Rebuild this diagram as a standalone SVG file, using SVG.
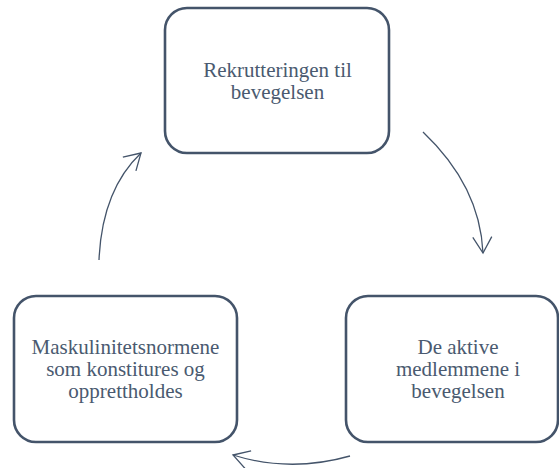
<svg xmlns="http://www.w3.org/2000/svg" width="559" height="468" viewBox="0 0 559 468">
  <style>
    .box { fill: #ffffff; stroke: #44546A; stroke-width: 2.6; }
    .lbl { font-size: 21px; fill: #4a5a70; text-anchor: middle; }
    .arc { fill: none; stroke: #44546A; stroke-width: 1.3; marker-end: url(#open); }
  </style>
  <defs>
    <marker id="open" markerUnits="userSpaceOnUse" markerWidth="40" markerHeight="40" refX="0" refY="0" viewBox="-20 -20 40 40" orient="auto" overflow="visible">
      <path d="M-16,-9.5 L0,0 L-16,9.5" fill="none" stroke="#44546A" stroke-width="1.3" stroke-linejoin="miter"/>
    </marker>
  </defs>
  <rect width="559" height="468" fill="#ffffff"/>
  <g id="connectors">
    <path class="arc" d="M423,132 Q480,186 483,253"/>
    <path class="arc" d="M350,456 Q290,473 233,455"/>
    <path class="arc" d="M99,260 Q102,190 141,153"/>
  </g>
  <g font-family="'Liberation Serif', 'DejaVu Serif', serif">
  <g id="node-rekruttering">
    <rect class="box" x="165" y="8" width="224" height="145" rx="22" ry="22"/>
    <text class="lbl" x="277.5" y="77">Rekrutteringen til</text>
    <text class="lbl" x="277.5" y="99">bevegelsen</text>
  </g>
  <g id="node-aktive">
    <rect class="box" x="346" y="296" width="212" height="146" rx="22" ry="22"/>
    <text class="lbl" x="458" y="354">De aktive</text>
    <text class="lbl" x="458" y="376">medlemmene i</text>
    <text class="lbl" x="458" y="398">bevegelsen</text>
  </g>
  <g id="node-maskulinitet">
    <rect class="box" x="14" y="296" width="223" height="146" rx="22" ry="22"/>
    <text class="lbl" x="125.5" y="354">Maskulinitetsnormene</text>
    <text class="lbl" x="125.5" y="376">som konstitures og</text>
    <text class="lbl" x="125.5" y="398">opprettholdes</text>
  </g>
  </g>
</svg>
